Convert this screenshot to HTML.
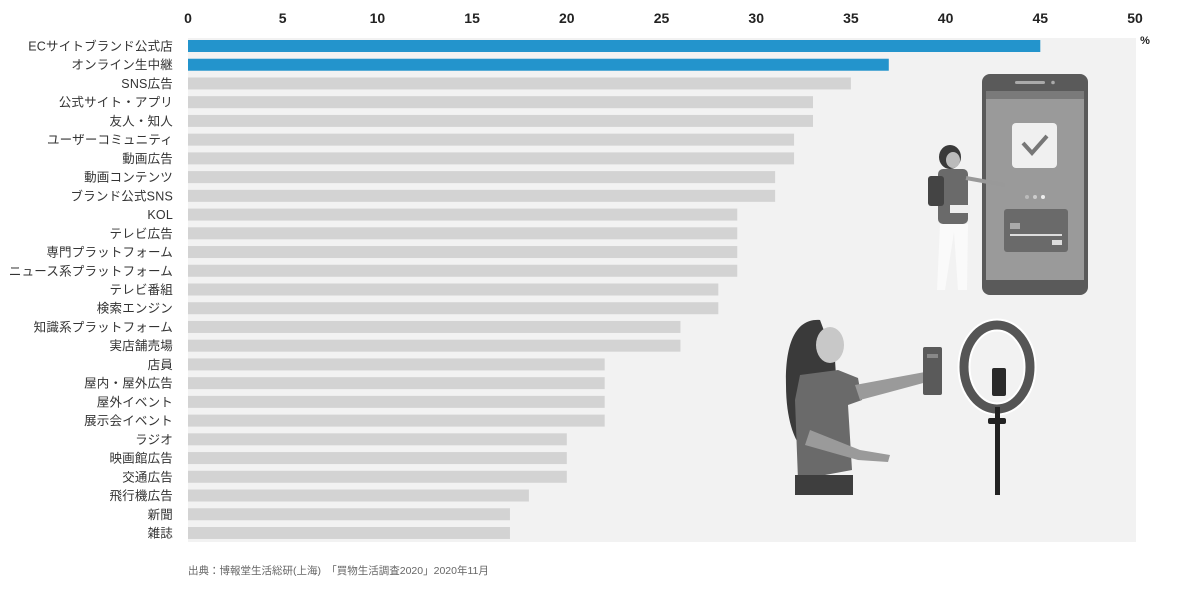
<!DOCTYPE html>
<html><head><meta charset="utf-8"><style>
body{margin:0;background:#fff;width:1200px;height:606px;overflow:hidden;font-family:"Liberation Sans","Noto Sans CJK JP",sans-serif;}
</style></head><body>
<svg width="1200" height="606" xmlns="http://www.w3.org/2000/svg" style="position:absolute;left:0;top:0">
<rect x="188" y="38" width="948" height="504" fill="#f2f2f2"/>
<g font-size="14" fill="#222" text-anchor="middle" font-weight="bold" font-family="Liberation Sans, sans-serif">
<text x="188" y="23">0</text><text x="282.7" y="23">5</text><text x="377.4" y="23">10</text><text x="472.1" y="23">15</text><text x="566.8" y="23">20</text><text x="661.5" y="23">25</text><text x="756.2" y="23">30</text><text x="850.9" y="23">35</text><text x="945.6" y="23">40</text><text x="1040.3" y="23">45</text><text x="1135" y="23">50</text>
</g>
<text x="1145" y="44" font-size="11" fill="#222" text-anchor="middle" font-weight="bold">%</text>
<g id="bars"></g>
<g font-size="12.5" fill="#333" text-anchor="end" id="labels" letter-spacing="0.2"></g>
<!-- phone -->
<rect x="982" y="74" width="106" height="221" rx="8" fill="#5a5a5a"/>
<rect x="986" y="91" width="98" height="189" fill="#9a9a9a"/>
<rect x="986" y="91" width="98" height="8" fill="#7a7a7a"/>
<rect x="1015" y="81" width="30" height="3" rx="1.5" fill="#aaa"/><circle cx="1053" cy="82.5" r="1.8" fill="#aaa"/>
<rect x="1012" y="123" width="45" height="45" rx="4" fill="#f0f0f0"/>
<path d="M1023 143 L1032 153 L1047 136" stroke="#777" stroke-width="4" fill="none"/>
<circle cx="1027" cy="197" r="2" fill="#bbb"/><circle cx="1035" cy="197" r="2" fill="#ccc"/><circle cx="1043" cy="197" r="2" fill="#eee"/>
<rect x="1004" y="209" width="64" height="43" rx="3" fill="#6a6a6a"/>
<rect x="1010" y="223" width="10" height="6" fill="#aaa"/>
<rect x="1010" y="234" width="52" height="2" fill="#ddd"/>
<rect x="1052" y="240" width="10" height="5" fill="#ddd"/>
<!-- woman 1 -->
<ellipse cx="950" cy="157" rx="11" ry="12" fill="#3a3a3a"/>
<ellipse cx="953" cy="160" rx="7" ry="8" fill="#bbb"/>
<rect x="938" y="169" width="30" height="55" rx="5" fill="#6a6a6a"/>
<rect x="928" y="176" width="16" height="30" rx="3" fill="#444"/>
<path d="M966 178 L1005 185" stroke="#999" stroke-width="4"/>
<path d="M940 224 L937 290 L945 290 L954 232 L958 290 L967 290 L968 224Z" fill="#fafafa"/>
<rect x="950" y="205" width="20" height="8" fill="#eee"/>
<!-- ring light -->
<ellipse cx="997" cy="367" rx="33" ry="42" fill="none" stroke="#fff" stroke-width="13"/>
<ellipse cx="997" cy="367" rx="33" ry="42" fill="none" stroke="#555" stroke-width="9"/>
<rect x="992" y="368" width="14" height="28" rx="2" fill="#2a2a2a"/>
<rect x="995" y="407" width="5" height="88" fill="#222"/>
<rect x="988" y="418" width="18" height="6" rx="2" fill="#222"/>
<!-- woman 2 -->
<path d="M820 320 C795 318 785 345 786 385 C786 420 795 440 800 445 L840 440 L835 360 Z" fill="#3a3a3a"/>
<ellipse cx="830" cy="345" rx="14" ry="18" fill="#c8c8c8"/>
<path d="M800 375 L838 370 L858 378 L862 400 L848 405 L852 470 L798 480 L795 400 Z" fill="#6a6a6a"/>
<rect x="795" y="475" width="58" height="20" fill="#3e3e3e"/>
<path d="M855 385 L925 372 L927 382 L860 400 Z" fill="#9a9a9a"/>
<path d="M810 430 L860 450 L890 455 L888 462 L858 460 L805 445 Z" fill="#9a9a9a"/>
<rect x="923" y="347" width="19" height="48" rx="2" fill="#5a5a5a"/>
<rect x="927" y="354" width="11" height="4" fill="#888"/>
<text x="188" y="574" font-size="10.5" fill="#666">出典：博報堂生活総研(上海)　「買物生活調査2020」2020年11月</text>
</svg>
<script>
var d=[["ECサイトブランド公式店",45],["オンライン生中継",37],["SNS広告",35],["公式サイト・アプリ",33],["友人・知人",33],["ユーザーコミュニティ",32],["動画広告",32],["動画コンテンツ",31],["ブランド公式SNS",31],["KOL",29],["テレビ広告",29],["専門プラットフォーム",29],["ニュース系プラットフォーム",29],["テレビ番組",28],["検索エンジン",28],["知識系プラットフォーム",26],["実店舗売場",26],["店員",22],["屋内・屋外広告",22],["屋外イベント",22],["展示会イベント",22],["ラジオ",20],["映画館広告",20],["交通広告",20],["飛行機広告",18],["新聞",17],["雑誌",17]];
var ns="http://www.w3.org/2000/svg",b=document.getElementById("bars"),l=document.getElementById("labels");
d.forEach(function(r,i){var c=46+i*18.73;
var e=document.createElementNS(ns,"rect");e.setAttribute("x",188);e.setAttribute("y",c-6);e.setAttribute("width",r[1]*18.94);e.setAttribute("height",12);e.setAttribute("fill",i<2?"#2394cc":"#d3d3d3");b.appendChild(e);
var t=document.createElementNS(ns,"text");t.setAttribute("x",173);t.setAttribute("y",c+4.5);t.textContent=r[0];l.appendChild(t);});
</script>
</body></html>
